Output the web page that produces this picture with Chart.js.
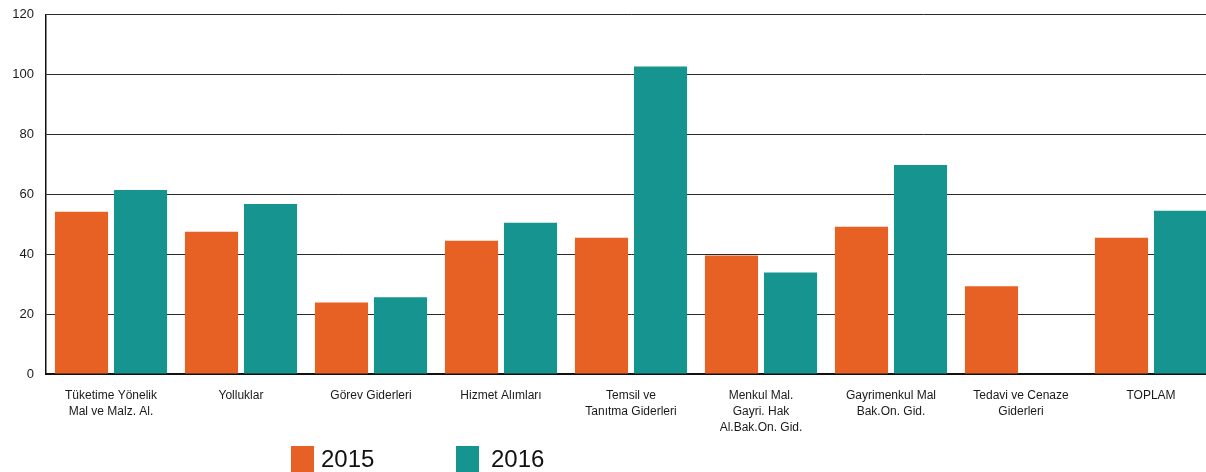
<!DOCTYPE html>
<html>
<head>
<meta charset="utf-8">
<script src="https://cdn.jsdelivr.net/npm/chart.js@4.4.1/dist/chart.umd.min.js"></script>
<style>
  html,body{margin:0;padding:0;background:#fff;overflow:hidden;width:1206px;height:472px;}
  #wrap{position:relative;width:1216px;height:472px;}
  #box{position:absolute;left:0;top:-5px;width:1216px;height:477px;}
  .legend{position:absolute;top:446px;height:26px;display:flex;align-items:flex-start;font-family:"Liberation Sans",Arial,sans-serif;font-size:24px;line-height:26px;color:#111;}
  .legend span.box{display:inline-block;width:23px;height:26px;}
</style>
</head>
<body>
<div id="wrap">
  <div id="box"><canvas id="chart"></canvas></div>
  <div class="legend" style="left:291px"><span class="box" style="background:#e76124;margin-right:7px"></span>2015</div>
  <div class="legend" style="left:456px"><span class="box" style="background:#16948f;margin-right:12px"></span>2016</div>
</div>
<script>
// kategoriler ve değerler
const categories = [
  ['Tüketime Yönelik','Mal ve Malz. Al.'],
  'Yolluklar',
  'Görev Giderleri',
  'Hizmet Alımları',
  ['Temsil ve','Tanıtma Giderleri'],
  ['Menkul Mal.','Gayri. Hak','Al.Bak.On. Gid.'],
  ['Gayrimenkul Mal','Bak.On. Gid.'],
  ['Tedavi ve Cenaze','Giderleri'],
  'TOPLAM'
];
const values2015 = [54.2, 47.5, 23.9, 44.5, 45.5, 39.6, 49.2, 29.3, 45.5];
const values2016 = [61.5, 56.8, 25.6, 50.5, 102.7, 33.9, 69.8, 0, 54.5];
const yTicks = [0, 20, 40, 60, 80, 100, 120];

const COLORS = {
  y2015: '#e76124',
  y2016: '#16948f',
  grid: '#2a2a2a',
  tick: '#1a1a1a'
};

const FONT = '"Liberation Sans", Arial, sans-serif';

new Chart(document.getElementById('chart'), {
  type:'bar',
  data:{
    labels:categories,
    datasets:[
      {label:'2015', data:values2015, backgroundColor:COLORS.y2015, categoryPercentage:.908, barPercentage:.9},
      {label:'2016', data:values2016, backgroundColor:COLORS.y2016, categoryPercentage:.908, barPercentage:.9}
    ]
  },
  options:{
    responsive:true,
    maintainAspectRatio:false,
    animation:false,
    layout:{padding:{top:8, left:0, right:0, bottom:0}},
    plugins:{legend:{display:false}, tooltip:{enabled:false}},
    scales:{
      x:{
        grid:{display:false, drawTicks:false},
        border:{display:true, color:'#111', width:2},
        ticks:{color:COLORS.tick, font:{family:FONT, size:12, lineHeight:1.33}, padding:14, autoSkip:false, maxRotation:0},
        afterFit:(s)=>{ s.height = 98; }
      },
      y:{
        min:0, max:120,
        afterBuildTicks:(s)=>{ s.ticks = yTicks.map(v=>({value:v})); },
        grid:{color:COLORS.grid, lineWidth:1, drawTicks:false},
        border:{display:true, color:'#111', width:1.5},
        ticks:{color:COLORS.tick, font:{family:FONT, size:13}, padding:12},
        afterFit:(s)=>{ s.width = 46; }
      }
    }
  }
});
</script>
</body>
</html>
